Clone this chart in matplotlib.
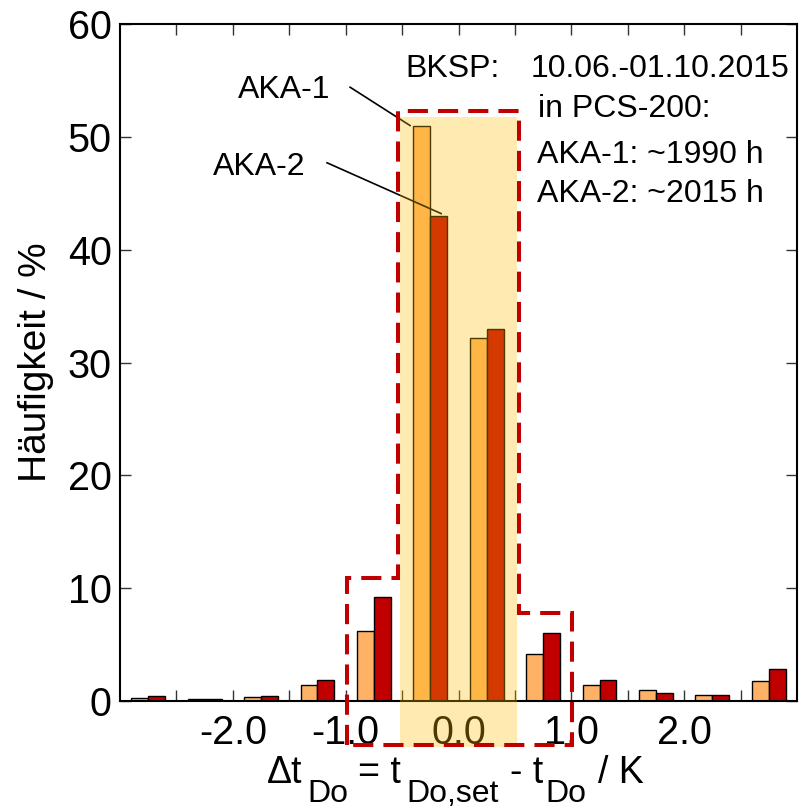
import matplotlib
matplotlib.use("Agg")
import matplotlib.pyplot as plt
from matplotlib.patches import Rectangle, Polygon

plt.rcParams["font.family"] = ["Liberation Sans", "DejaVu Sans"]

# bin centres (K) and frequencies (%)
centers = [-2.75, -2.25, -1.75, -1.25, -0.75, -0.25, 0.25, 0.75, 1.25, 1.75, 2.25, 2.75]
aka1 = [0.3, 0.2, 0.4, 1.4, 6.2, 51.0, 32.2, 4.2, 1.4, 1.0, 0.55, 1.8]
aka2 = [0.45, 0.2, 0.45, 1.9, 9.2, 43.0, 33.0, 6.0, 1.9, 0.75, 0.55, 2.8]
xticks = [-2.5, -2.0, -1.5, -1.0, -0.5, 0.0, 0.5, 1.0, 1.5, 2.0, 2.5]
xticklabels = ["", "-2.0", "", "-1.0", "", "0.0", "", "1.0", "", "2.0", ""]
yticks = [0, 10, 20, 30, 40, 50, 60]

fig = plt.figure(figsize=(8, 8.11), dpi=100)
ax = fig.add_axes([0.15, 0.1356, 0.84625, 0.8348])

w = 0.15
ax.bar([c - w / 2 for c in centers], aka1, width=w, color="#FFB266",
       edgecolor="black", linewidth=1, zorder=2)
ax.bar([c + w / 2 for c in centers], aka2, width=w, color="#C00000",
       edgecolor="black", linewidth=1, zorder=2)

ax.set_xlim(-3, 3)
ax.set_ylim(0, 60)
ax.set_xticks(xticks)
ax.set_xticklabels(xticklabels)
ax.set_yticks(yticks)
ax.tick_params(direction="in", length=8, width=1, color="#333333",
               top=True, right=True, labelsize=28.5)
ax.tick_params(axis="x", pad=9)
ax.tick_params(axis="y", pad=6)
for s in ax.spines.values():
    s.set_linewidth(1.5)

ax.set_ylabel("Häufigkeit / %", fontsize=28, labelpad=10)

# highlighted centre region
ax.add_patch(Rectangle((-0.518, -4.1), 1.038, 55.9, facecolor="#FFC000",
                       alpha=0.3, edgecolor="none", zorder=3, clip_on=False))
ax.add_patch(Polygon([(-0.988, -3.9), (-0.988, 10.9), (-0.54, 10.9), (-0.54, 52.3),
                      (0.537, 52.3), (0.537, 7.8), (1.007, 7.8), (1.007, -3.9)],
                     closed=True, fill=False, edgecolor="#C00000", linewidth=2.9,
                     linestyle=(0, (5, 2.5)), zorder=4, clip_on=False))

# bar labels
ax.text(-1.954, 53.4, "AKA-1", fontsize=23, va="baseline", ha="left")
ax.plot([-0.961, -0.429], [54.4, 51.0], color="black", lw=1.2, zorder=2.8)
ax.text(-2.176, 46.6, "AKA-2", fontsize=23, va="baseline", ha="left")
ax.plot([-1.165, -0.154], [47.7, 43.2], color="black", lw=1.2, zorder=2.8)

ax.text(-0.473, 55.3, "BKSP:", fontsize=23, va="baseline", ha="left")
ax.text(0.635, 55.3, "10.06.-01.10.2015", fontsize=23, va="baseline", ha="left")
ax.text(0.706, 51.8, "in PCS-200:", fontsize=23, va="baseline", ha="left")
ax.text(0.70, 47.7, "AKA-1: ~1990 h", fontsize=23, va="baseline", ha="left")
ax.text(0.70, 44.2, "AKA-2: ~2015 h", fontsize=23, va="baseline", ha="left")

# x label with large subscripts, placed piece by piece (pixel x, is subscript)
pieces = [("Δt", 267, False), ("Do", 307, True), ("= t", 358, False),
          ("Do,set", 406, True), ("- t", 510, False), ("Do", 545, True),
          ("/ K", 598, False)]
for txt, px, sub in pieces:
    if sub:
        fig.text(px / 800, 1 - 802 / 811, txt, fontsize=23, va="baseline", ha="left")
    else:
        fig.text(px / 800, 1 - 783 / 811, txt, fontsize=27, va="baseline", ha="left")

fig.savefig("out.png", dpi=100)
